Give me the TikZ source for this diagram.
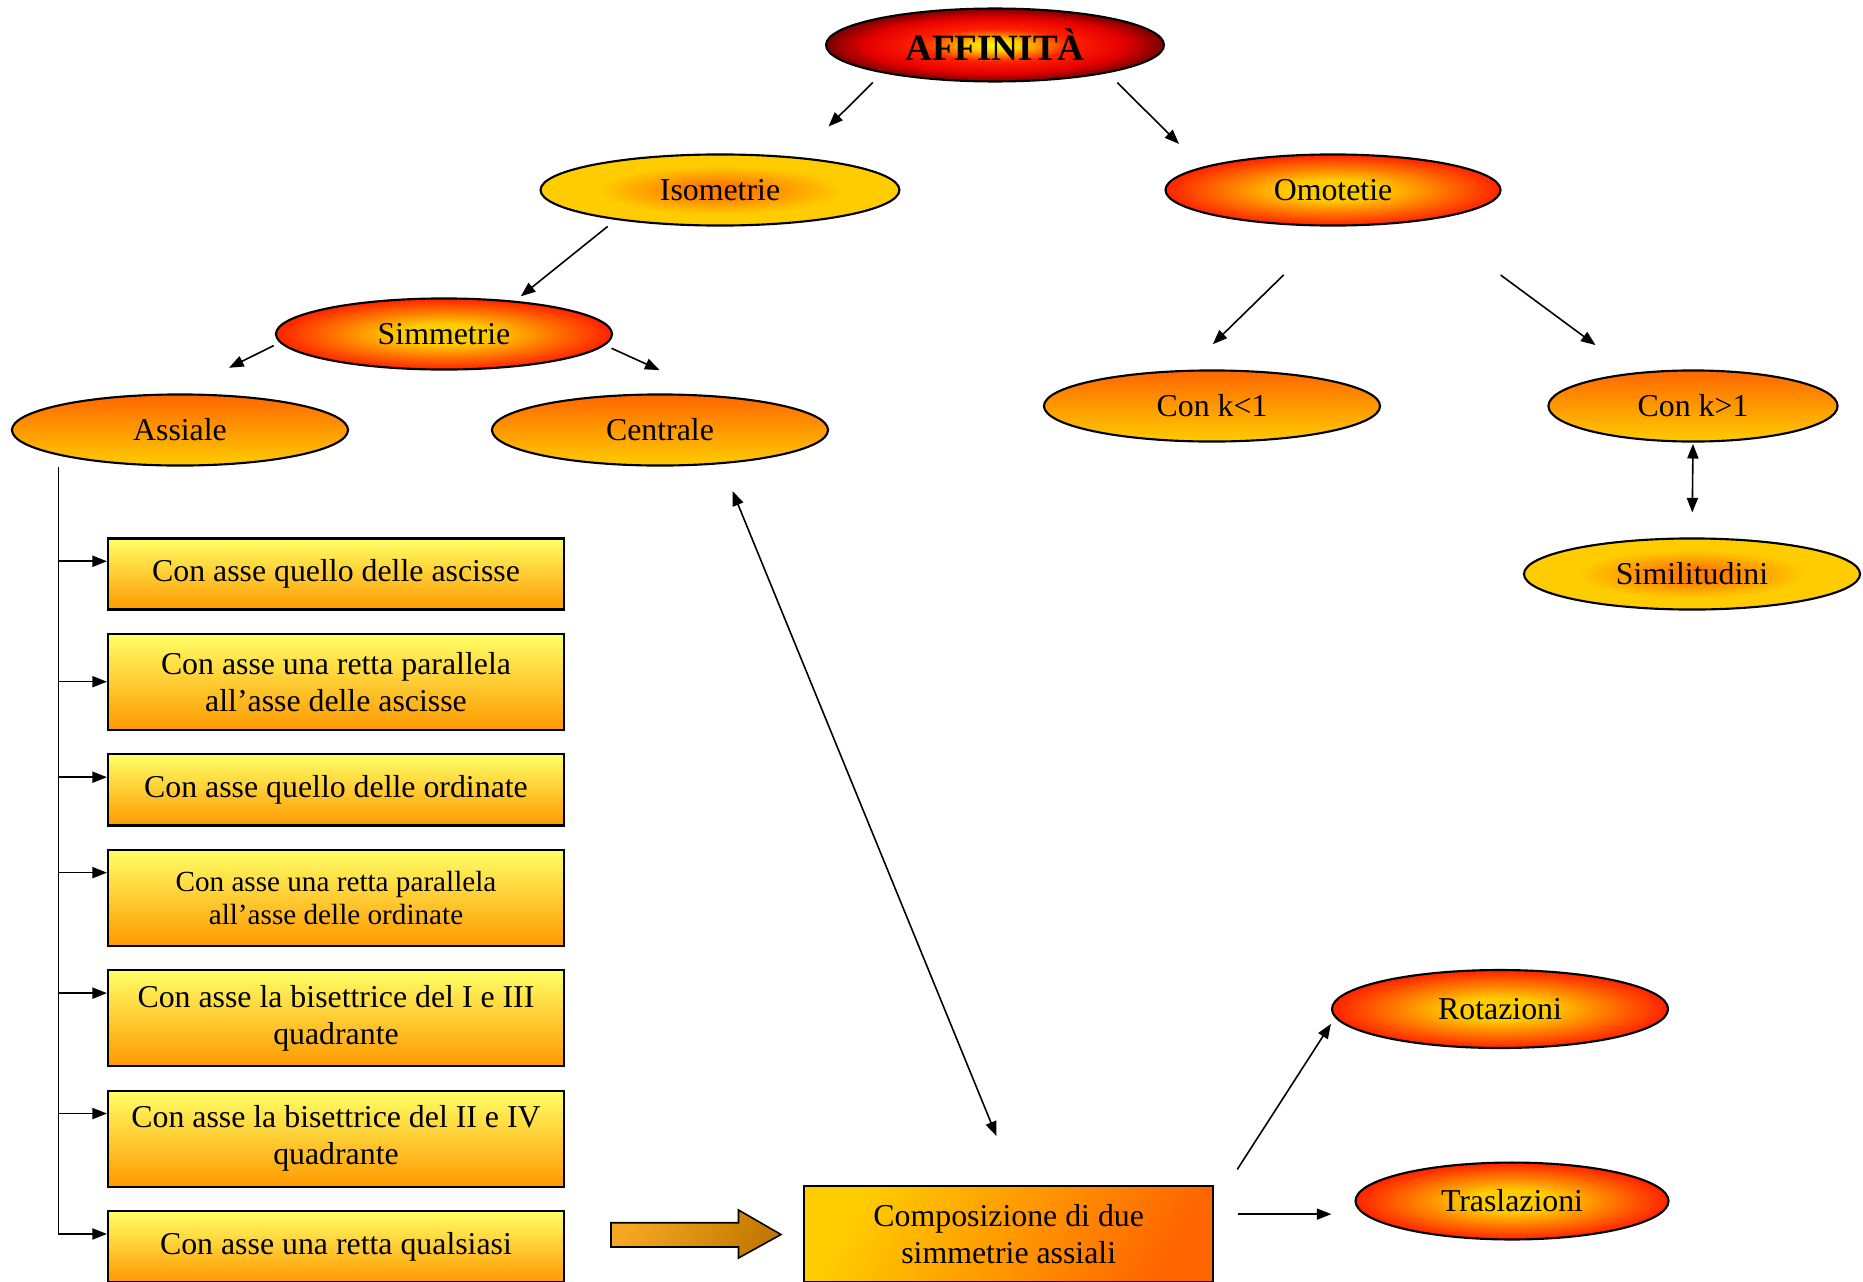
\documentclass[tikz,border=0pt]{standalone}
\usepackage{fontspec}
\setmainfont{Liberation Serif}
\usetikzlibrary{positioning, shapes.geometric, arrows.meta}

\definecolor{ggold}{HTML}{FFCC00}
\definecolor{gorange}{HTML}{FF6600}
\definecolor{gamber}{HTML}{FF8000}
\definecolor{gred}{HTML}{FF2200}
\definecolor{gdark}{HTML}{7A0000}
\definecolor{boxtop}{HTML}{FFFF66}
\definecolor{boxbot}{HTML}{FF9900}
\definecolor{fattop}{HTML}{F5A623}
\definecolor{fatbot}{HTML}{C47800}

\pgfdeclareradialshading{redglow}{\pgfpoint{0bp}{0bp}}{color(0bp)=(ggold); color(7bp)=(ggold); color(25bp)=(gred); color(50bp)=(gred)}
\pgfdeclareradialshading{ambglow}{\pgfpoint{0bp}{0bp}}{color(0bp)=(gamber); color(5bp)=(gamber); color(17bp)=(ggold); color(50bp)=(ggold)}
\pgfdeclareradialshading{affglow}{\pgfpoint{0bp}{0bp}}{color(0bp)=(yellow); color(4bp)=(ggold); color(11bp)=(gred); color(19bp)=(red!90!black); color(25bp)=(gdark); color(50bp)=(gdark)}

\tikzset{
    oval/.style={ellipse, draw, line width=0.8pt, shade, minimum width=126.7pt,
        minimum height=26.8pt, inner sep=1pt, font=\fontsize{12}{14}\selectfont},
    redoval/.style={oval, shading=redglow},
    amboval/.style={oval, shading=ambglow},
    sunoval/.style={oval, top color=gorange, bottom color=ggold},
    box/.style={rectangle, draw, line width=0.8pt, top color=boxtop, bottom color=boxbot,
        minimum width=171.9pt, minimum height=26.8pt, text width=165pt, inner xsep=3.45pt,
        align=flush center, font=\fontsize{12}{14}\selectfont},
    tallbox/.style={box, minimum height=36.2pt},
    arr/.style={-{Triangle[length=5.5pt, width=4.2pt]}, line width=0.6pt},
    twoarr/.style={{Triangle[length=5.5pt, width=4.2pt]}-{Triangle[length=5.5pt, width=4.2pt]}, line width=0.6pt}
}

\begin{document}
\begin{tikzpicture}[x=0.377pt, y=-0.377pt]
    \useasboundingbox (0,0) rectangle (1863,1281);

    % ovals
    \node[oval, shading=affglow, minimum width=127.4pt, minimum height=27.5pt,
        font=\fontsize{14}{16}\selectfont\bfseries] (aff) at (995,45) {AFFINITÀ};
    \node[amboval, minimum width=135.3pt] (iso) at (720,190) {Isometrie};
    \node[redoval, minimum width=126.3pt] (omo) at (1333,190) {Omotetie};
    \node[redoval] (sim) at (444,334) {Simmetrie};
    \node[sunoval] (ass) at (180,430) {Assiale};
    \node[sunoval] (cen) at (660,430) {Centrale};
    \node[sunoval] (klt) at (1212,406) {Con k<1};
    \node[sunoval, minimum width=109pt] (kgt) at (1693,406) {Con k>1};
    \node[amboval] (simil) at (1692,574) {Similitudini};
    \node[redoval, minimum height=29.4pt] (rot) at (1500,1009) {Rotazioni};
    \node[redoval, minimum width=118pt, minimum height=29pt] (tra) at (1512,1201) {Traslazioni};

    % boxes
    \node[box] (b1) at (336,574) {Con asse quello delle ascisse};
    \node[tallbox, below=8.4pt of b1] (b2) {Con asse una retta parallela\\all’asse delle ascisse};
    \node[box, below=8.4pt of b2] (b3) {Con asse quello delle ordinate};
    \node[tallbox, below=8.4pt of b3, font=\fontsize{11}{12.5}\selectfont] (b4)
        {Con asse una retta parallela\\all’asse delle ordinate};
    \node[tallbox, below=8.4pt of b4] (b5) {Con asse la bisettrice del I e III\\quadrante};
    \node[tallbox, below=8.4pt of b5] (b6) {Con asse la bisettrice del II e IV\\quadrante};
    \node[box, below=8.4pt of b6] (b7) {Con asse una retta qualsiasi};

    \node[rectangle, draw, line width=0.8pt, left color=ggold, right color=gorange,
        shading angle=60, minimum width=154.2pt, minimum height=36.2pt, align=flush center,
        font=\fontsize{12}{14}\selectfont] (comp) at (1008.7,1234)
        {Composizione di due\\simmetrie assiali};

    % fat arrow
    \shade[draw, line width=0.6pt, left color=fattop, right color=fatbot, shading angle=60]
    (611,1222.7) -- (738.5,1222.7) -- (738.5,1210) -- (781,1234.5)
    -- (738.5,1258) -- (738.5,1247) -- (611,1247) -- cycle;

    % connectors
    \draw[arr, shorten <=5pt, shorten >=16.3pt] (aff.194) -- (iso.23);
    \draw[arr, shorten <=5.1pt, shorten >=12.3pt] (aff.346) -- (omo.170.5);
    \draw[arr, shorten <=3.9pt, shorten >=2.7pt] (iso.196.5) -- (sim.25.6);
    \draw[arr, shorten <=2.5pt, shorten >=21.7pt] (sim.183.6) -- (ass.94.6);
    \draw[arr, shorten <=2.75pt, shorten >=23.1pt] (sim.356.5) -- (cen.32.2);
    \draw[arr, shorten <=26pt, shorten >=13.8pt] (omo.270) -- (klt.125.2);
    \draw[arr, shorten <=34.7pt, shorten >=17.5pt] (omo.342.7) -- (kgt.151.7);
    \draw[twoarr, shorten <=0.5pt, shorten >=9.4pt] (kgt.south) -- (simil.north);
    \draw[twoarr, shorten <=11pt, shorten >=19.9pt] (cen.331.5) -- (comp.81.9);
    \draw[arr, shorten <=16pt, shorten >=2.8pt] (comp.8.9) -- (rot.183.1);
    \coordinate (cr) at ([yshift=7.5pt]comp.east);
    \draw[arr, shorten <=9pt, shorten >=8.7pt] (cr) -- (cr -| tra.west);

    % tree of the axial ones
    \draw[arr] (b1.west |- ass.south) ++(-18.3pt,0) |- ([yshift=-9pt]b7.north west);
    \foreach \b/\s in {b1/9pt, b2/18.4pt, b3/9pt, b4/9pt, b5/9pt, b6/9pt}
        \draw[arr] ([yshift=-\s]\b.north west) ++(-18.3pt,0) -- ++(18.3pt,0);
\end{tikzpicture}
\end{document}
